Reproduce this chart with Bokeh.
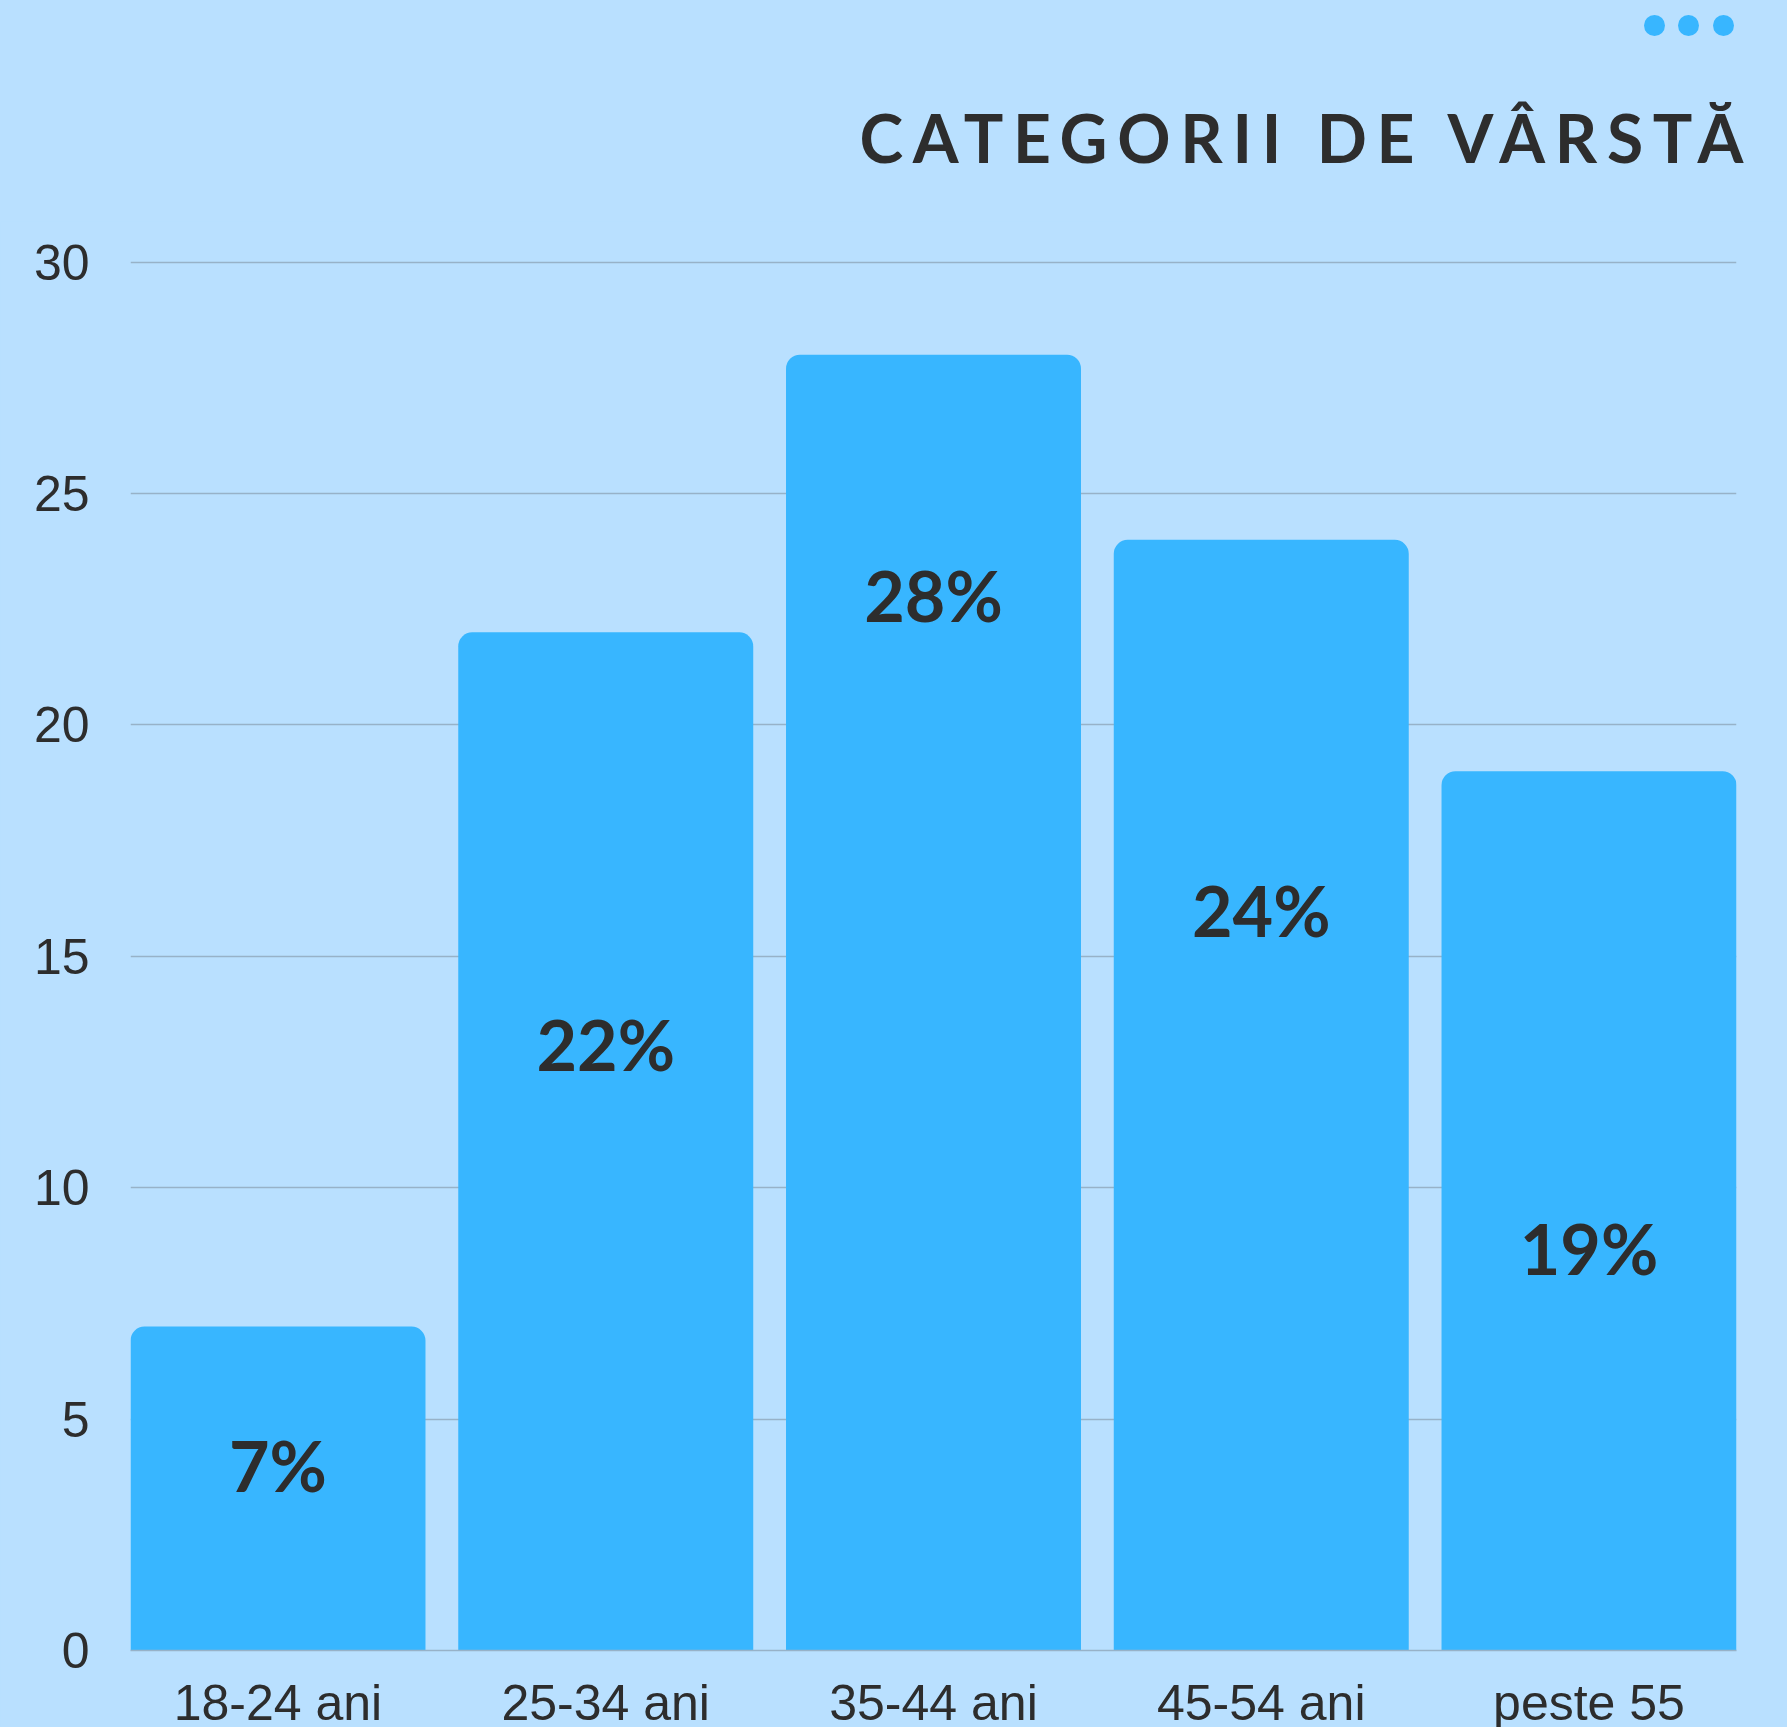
from bokeh.plotting import figure
from bokeh.models import Range1d, FixedTicker, ColumnDataSource, Div, GlobalInlineStyleSheet
from bokeh.layouts import column
from bokeh.core.properties import value
from bokeh.embed import file_html
from bokeh.resources import INLINE

# ---- data ----
categories = ["18-24 ani", "25-34 ani", "35-44 ani", "45-54 ani", "peste 55"]
values = [7, 22, 28, 24, 19]
labels = ["7%", "22%", "28%", "24%", "19%"]
label_y = [4.0, 13.1, 22.8, 16.0, 8.7]   # where each percentage label sits (data units)
y_ticks = [0, 5, 10, 15, 20, 25, 30]
title_text = "CATEGORII DE VÂRSTĂ"

# ---- styles ----
BG = "#B9E0FF"
BAR = "#38B6FF"
INK = "#2D2D2D"
GRID = "#97B2C8"

xs = list(range(len(categories)))
src = ColumnDataSource(dict(x=xs, top=values, label=labels, ly=label_y))

css = GlobalInlineStyleSheet(
    css=f"html, body {{ margin:0 !important; padding:0; background-color:{BG}; overflow:hidden; }}"
)

p = figure(
    width=1787, height=1512,
    x_range=Range1d(-0.45, len(categories) - 1 + 0.45),
    y_range=Range1d(0, 30.1),
    output_backend="svg", toolbar_location=None,
    min_border_left=130, min_border_right=51, min_border_top=36, min_border_bottom=0,
    background_fill_color=BG, border_fill_color=BG, outline_line_color=None,
    stylesheets=[css],
)

p.vbar(x="x", top="top", width=0.9, source=src, fill_color=BAR, line_color=None,
       border_radius=(14, 14, 0, 0))

p.text(x="x", y="ly", text="label", source=src,
       text_font=value("Lato"), text_font_style="bold", text_font_size="70px",
       text_color=INK, text_align="center", text_baseline="middle")

# x axis
p.xaxis.ticker = FixedTicker(ticks=xs)
p.xaxis.major_label_overrides = {i: c for i, c in enumerate(categories)}
p.xaxis.axis_line_color = GRID
p.xaxis.axis_line_width = 1.5
p.xaxis.major_tick_line_color = None
p.xaxis.minor_tick_line_color = None
p.xaxis.major_label_text_font = "Liberation Sans"
p.xaxis.major_label_text_font_size = "50px"
p.xaxis.major_label_text_color = INK
p.xaxis.major_label_standoff = 18

# y axis
p.yaxis.ticker = FixedTicker(ticks=y_ticks)
p.yaxis.axis_line_color = None
p.yaxis.major_tick_line_color = None
p.yaxis.minor_tick_line_color = None
p.yaxis.major_label_text_font = "Liberation Sans"
p.yaxis.major_label_text_font_size = "50px"
p.yaxis.major_label_text_color = INK
p.yaxis.major_label_standoff = 35

p.xgrid.grid_line_color = None
p.ygrid.grid_line_color = GRID
p.ygrid.grid_line_width = 1.5

# header: menu dots + letter-spaced title
dot_html = "".join(
    f'<div style="position:absolute;left:{cx - 17}px;top:10px;width:21px;height:21px;'
    f'border-radius:50%;background:{BAR};"></div>'
    for cx in (1656, 1690, 1725)
)
title_html = (
    f'<div style="position:absolute;right:39px;top:100px;font-family:Lato;font-weight:700;'
    f'font-size:66px;line-height:66px;letter-spacing:9.7px;color:{INK};white-space:nowrap;">'
    f'{title_text}</div>'
)
header = Div(
    text=f'<div style="position:relative;width:1787px;height:211px;">{dot_html}{title_html}</div>',
    width=1787, height=211, styles={"background-color": BG},
)

layout = column(header, p, spacing=0)

open("out.html", "w").write(file_html(layout, INLINE))
